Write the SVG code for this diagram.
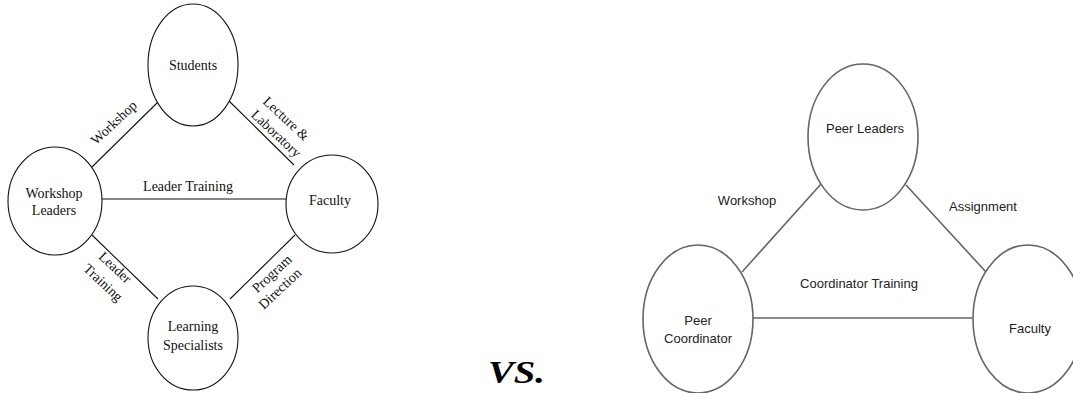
<svg xmlns="http://www.w3.org/2000/svg" width="1073" height="393" viewBox="0 0 1073 393">
<style>
.ln{fill:#fff;stroke:#111;stroke-width:1.1}
.cn{stroke:#111;stroke-width:1.1;fill:none}
.rn{fill:#fff;stroke:#666;stroke-width:1.6}
.rc{stroke:#666;stroke-width:1.6;fill:none}
.t{font-family:"Liberation Serif","Times New Roman",serif;font-size:14px;fill:#111;text-anchor:middle}
.s{font-family:"Liberation Sans",Arial,sans-serif;font-size:13px;fill:#222;text-anchor:middle}
</style>
<rect width="1073" height="393" fill="#fff"/>
<g id="connectors-left">
<line class="cn" x1="92" y1="167" x2="158" y2="102"/>
<line class="cn" x1="228" y1="100" x2="294" y2="165"/>
<line class="cn" x1="102" y1="199" x2="287" y2="199"/>
<line class="cn" x1="92" y1="235" x2="158" y2="299"/>
<line class="cn" x1="230" y1="299" x2="295" y2="235"/>
<text class="t" transform="translate(117,126) rotate(-43)">Workshop</text>
<text class="t" transform="translate(283,122) rotate(43)">Lecture &amp;</text>
<text class="t" transform="translate(273,137) rotate(43)">Laboratory</text>
<text class="t" x="188" y="191">Leader Training</text>
<text class="t" transform="translate(112,271) rotate(43)">Leader</text>
<text class="t" transform="translate(100,286) rotate(43)">Training</text>
<text class="t" transform="translate(275,277) rotate(-43)">Program</text>
<text class="t" transform="translate(283,292) rotate(-43)">Direction</text>
</g>
<g id="students"><ellipse class="ln" cx="193" cy="65" rx="45" ry="61"/><text class="t" x="193" y="70">Students</text></g>
<g id="workshop-leaders"><ellipse class="ln" cx="55" cy="201" rx="47" ry="54"/><text class="t" x="54" y="198">Workshop</text><text class="t" x="54" y="215">Leaders</text></g>
<g id="faculty-left"><ellipse class="ln" cx="332" cy="204" rx="46" ry="49"/><text class="t" x="330" y="205">Faculty</text></g>
<g id="learning-specialists"><ellipse class="ln" cx="193" cy="338" rx="45" ry="52"/><text class="t" x="193" y="331">Learning</text><text class="t" x="193" y="350">Specialists</text></g>
<g id="connectors-right">
<line class="rc" x1="742" y1="272" x2="821" y2="184"/>
<line class="rc" x1="906" y1="185" x2="986" y2="272"/>
<line class="rc" x1="753" y1="318" x2="973" y2="318"/>
<text class="s" x="747" y="205">Workshop</text>
<text class="s" x="983" y="211">Assignment</text>
<text class="s" x="859" y="288">Coordinator Training</text>
</g>
<g id="peer-leaders"><ellipse class="rn" cx="863" cy="137" rx="55" ry="73"/><text class="s" x="865" y="133">Peer Leaders</text></g>
<g id="peer-coordinator"><ellipse class="rn" cx="698" cy="319" rx="55" ry="74"/><text class="s" x="698" y="325">Peer</text><text class="s" x="698" y="343">Coordinator</text></g>
<g id="faculty-right"><ellipse class="rn" cx="1028" cy="319" rx="55" ry="74"/><text class="s" x="1030" y="333">Faculty</text></g>
<text x="488" y="383" textLength="57" lengthAdjust="spacingAndGlyphs" font-family="'Liberation Serif','Times New Roman',serif" font-size="32" font-weight="bold" font-style="italic" fill="#000">VS.</text>
</svg>
